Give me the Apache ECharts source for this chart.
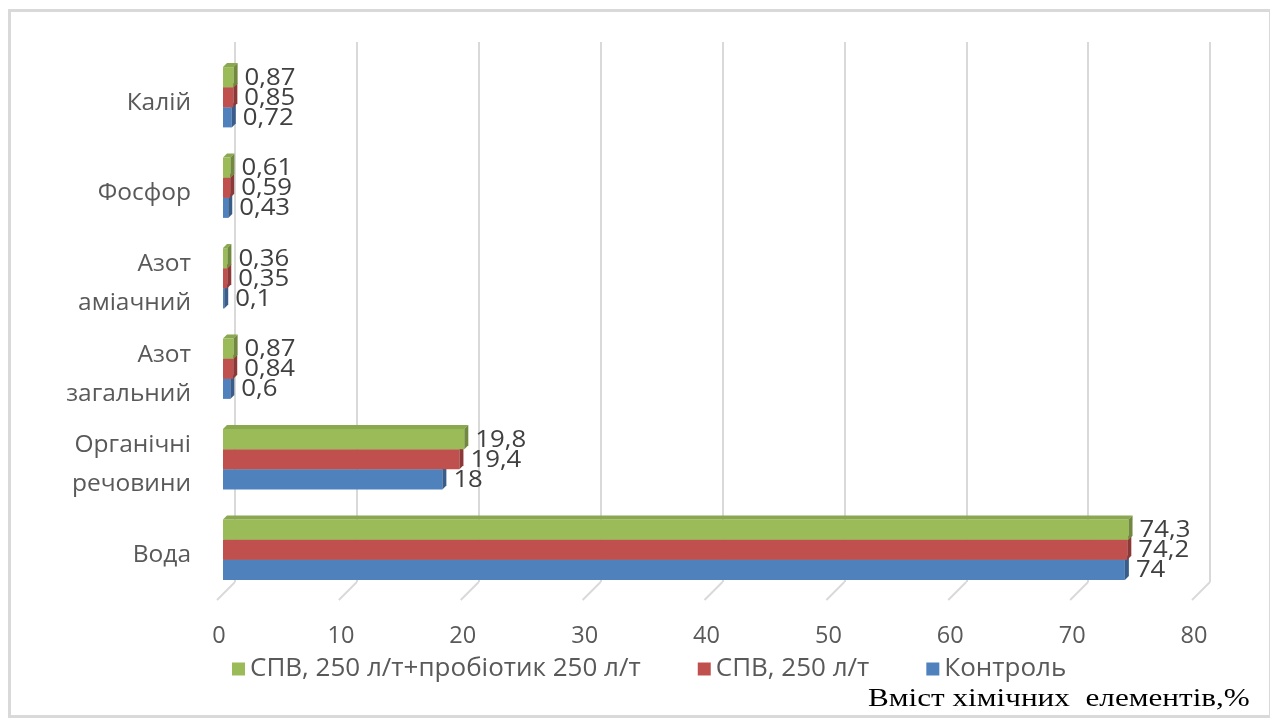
<!DOCTYPE html>
<html><head><meta charset="utf-8">
<script src="https://cdn.jsdelivr.net/npm/echarts@6/dist/echarts.min.js"></script>
<style>html,body{margin:0;padding:0;background:#fff}#c{width:1270px;height:718px}</style>
</head><body><div id="c"></div>
<script>
var categories = ['Вода', 'Органічні\nречовини', 'Азот\nзагальний', 'Азот\nаміачний', 'Фосфор', 'Калій'];
var control = [74, 18, 0.6, 0.1, 0.43, 0.72];
var spv = [74.2, 19.4, 0.84, 0.35, 0.59, 0.85];
var spvProb = [74.3, 19.8, 0.87, 0.36, 0.61, 0.87];
var seriesNames = ['Контроль', 'СПВ, 250 л/т', 'СПВ, 250 л/т+пробіотик 250 л/т'];
var xTicks = [0, 10, 20, 30, 40, 50, 60, 70, 80];

var colors = ['#4f81bd', '#c0504d', '#9bbb59'];
var sideColors = ['#385d8a', '#8c3836', '#71893f'];
var topColors = ['#4672a8', '#ab4744', '#8aa84f'];
var FONT = 'Open Sans';
var D = 4;
var SHIFT = -5.5;

function fmt(v) { return String(v).replace('.', ','); }

function barRender(idx) {
  return function (params, api) {
    var cat = api.value(0), val = api.value(1);
    var band = api.size([0, 1])[1];
    var bh = band * 0.222;
    var c = api.coord([0, cat]);
    var e = api.coord([val, cat]);
    var x0 = c[0], x1 = e[0];
    var yBot = c[1] + SHIFT + 1.5 * bh - idx * bh;
    var yTop = yBot - bh;
    return {
      type: 'group',
      children: [
        { type: 'rect', shape: { x: x0, y: yTop, width: x1 - x0, height: bh }, style: { fill: colors[idx] } },
        { type: 'polygon', shape: { points: [[x0, yTop], [x1, yTop], [x1 + D, yTop - D], [x0 + D, yTop - D]] }, style: { fill: topColors[idx] } },
        { type: 'polygon', shape: { points: [[x1, yTop], [x1 + D, yTop - D], [x1 + D, yBot - D], [x1, yBot]] }, style: { fill: sideColors[idx] } },
        { type: 'text', x: x1 + D + 7, y: (yTop + yBot) / 2 + 1, scaleX: 1.12, style: { text: fmt(val), fill: '#404040', font: '23px "' + FONT + '"', textVerticalAlign: 'middle', textAlign: 'left' } }
      ]
    };
  };
}

function mk(arr) { return arr.map(function (v, i) { return [i, v]; }); }

var chart = echarts.init(document.getElementById('c'), null, { renderer: 'canvas' });
var datasets = [control, spv, spvProb];
var series = [
  {
    type: 'custom', xAxisIndex: 0, yAxisIndex: 0, silent: true, z: 1,
    data: xTicks.map(function (t) { return [t, 0]; }),
    renderItem: function (params, api) {
      var p = api.coord([api.value(0), 0]);
      return { type: 'line', shape: { x1: p[0], y1: p[1], x2: p[0] - 18, y2: p[1] + 18 }, style: { stroke: '#d9d9d9', lineWidth: 2 } };
    }
  }
];
for (var s = 0; s < 3; s++) {
  series.push({
    type: 'custom', name: seriesNames[s], xAxisIndex: 1, yAxisIndex: 1, z: 5,
    itemStyle: { color: colors[s] },
    encode: { x: 1, y: 0 },
    data: mk(datasets[s]),
    renderItem: barRender(s)
  });
}

chart.setOption({
  backgroundColor: '#fff',
  animation: false,
  grid: [
    { left: 235, width: 975, top: 42, height: 540 },
    { left: 223, width: 975, top: 57.5, height: 543 }
  ],
  xAxis: [
    { gridIndex: 0, type: 'value', min: 0, max: 80, interval: 10, axisLine: { show: false }, axisTick: { show: false }, axisLabel: { show: false }, splitLine: { show: true, lineStyle: { color: '#d9d9d9', width: 2 } } },
    { gridIndex: 1, type: 'value', min: 0, max: 80, interval: 10, axisLine: { show: false }, axisTick: { show: false }, splitLine: { show: false },
      axisLabel: { color: '#595959', fontFamily: FONT, fontSize: 23.5, margin: 24, padding: [0, 8, 0, 0] } }
  ],
  yAxis: [
    { gridIndex: 0, type: 'value', min: 0, max: 1, show: false },
    { gridIndex: 1, type: 'category', data: categories, axisLine: { show: false }, axisTick: { show: false }, splitLine: { show: false },
      axisLabel: { color: '#595959', fontFamily: FONT, fontSize: 24.5, lineHeight: 39, margin: 32, align: 'right' } }
  ],
  legend: {
    top: 651, left: 227, itemWidth: 13, itemHeight: 13, itemGap: 57, icon: 'rect',
    data: [seriesNames[2], seriesNames[1], seriesNames[0]],
    textStyle: { color: '#595959', fontFamily: FONT, fontSize: 26 }
  },
  graphic: [
    { type: 'rect', left: 7, top: 8, shape: { width: 1261, height: 706 }, style: { fill: 'none', stroke: '#d9d9d9', lineWidth: 3 }, z: -1 },
    { type: 'text', x: 868, y: 712, scaleX: 1.2, style: { text: 'Вміст хімічних  елементів,%', fill: '#000', font: '26px "Liberation Serif"', textAlign: 'left', textVerticalAlign: 'bottom' }, z: 10 }
  ],
  series: series
});
</script>
</body></html>
